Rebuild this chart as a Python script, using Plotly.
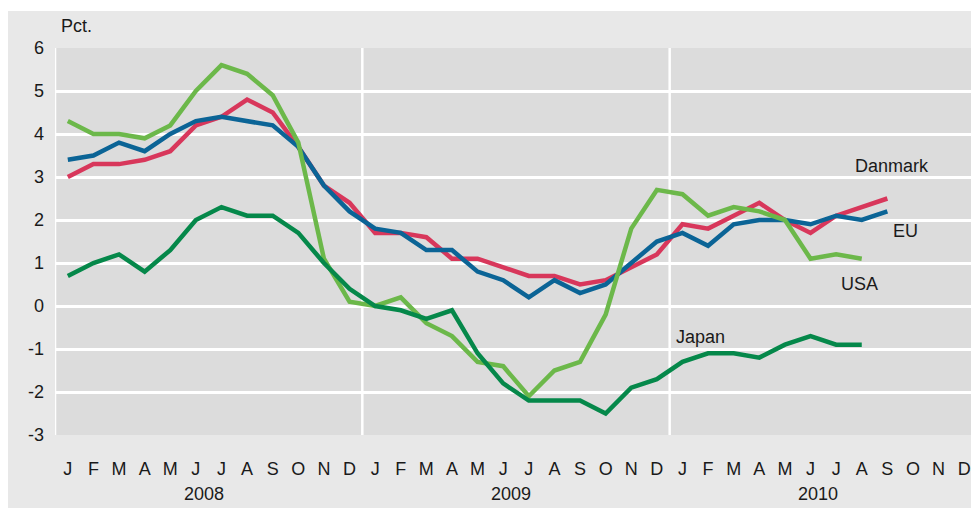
import plotly.graph_objects as go

months = ["J", "F", "M", "A", "M", "J", "J", "A", "S", "O", "N", "D"] * 3
years = ["2008", "2009", "2010"]
y_ticks = [-3, -2, -1, 0, 1, 2, 3, 4, 5, 6]
y_ticktext = ["-3", "-2", "-1", "0", "1", "2", "3", "4", "5", "6"]

danmark = [3.0, 3.3, 3.3, 3.4, 3.6, 4.2, 4.4, 4.8, 4.5, 3.7, 2.8, 2.4,
           1.7, 1.7, 1.6, 1.1, 1.1, 0.9, 0.7, 0.7, 0.5, 0.6, 0.9, 1.2,
           1.9, 1.8, 2.1, 2.4, 2.0, 1.7, 2.1, 2.3, 2.5]
eu = [3.4, 3.5, 3.8, 3.6, 4.0, 4.3, 4.4, 4.3, 4.2, 3.7, 2.8, 2.2,
      1.8, 1.7, 1.3, 1.3, 0.8, 0.6, 0.2, 0.6, 0.3, 0.5, 1.0, 1.5,
      1.7, 1.4, 1.9, 2.0, 2.0, 1.9, 2.1, 2.0, 2.2]
usa = [4.3, 4.0, 4.0, 3.9, 4.2, 5.0, 5.6, 5.4, 4.9, 3.8, 1.1, 0.1,
       0.0, 0.2, -0.4, -0.7, -1.3, -1.4, -2.1, -1.5, -1.3, -0.2, 1.8, 2.7,
       2.6, 2.1, 2.3, 2.2, 2.0, 1.1, 1.2, 1.1]
japan = [0.7, 1.0, 1.2, 0.8, 1.3, 2.0, 2.3, 2.1, 2.1, 1.7, 1.0, 0.4,
         0.0, -0.1, -0.3, -0.1, -1.1, -1.8, -2.2, -2.2, -2.2, -2.5, -1.9, -1.7,
         -1.3, -1.1, -1.1, -1.2, -0.9, -0.7, -0.9, -0.9]

series = [
    ("Danmark", danmark, "#d8375b"),
    ("EU", eu, "#0b6496"),
    ("USA", usa, "#6cb84a"),
    ("Japan", japan, "#05884a"),
]

FONT = "Liberation Sans, Arial, sans-serif"
FS = 18
TXT = "#1a1a1a"
fig = go.Figure()
for name, vals, col in series:
    fig.add_trace(go.Scatter(
        x=list(range(len(vals))), y=vals, mode="lines", name=name,
        line=dict(color=col, width=4.5), showlegend=False, hoverinfo="skip"))

shapes = []
# thin white strip at the top
shapes.append(dict(type="rect", xref="paper", yref="paper", x0=-0.2, x1=1.2,
                   y0=1.0956, y1=1.3, fillcolor="white", line_width=0, layer="below"))
# year separators and plot edges
for xv in [-0.5, 11.5, 23.5, 35.5]:
    shapes.append(dict(type="line", xref="x", yref="paper", x0=xv, x1=xv, y0=0, y1=1,
                       line=dict(color="white", width=2.5), layer="below"))
# zero line
shapes.append(dict(type="line", xref="paper", yref="y", x0=0, x1=1, y0=0, y1=0,
                   line=dict(color="#6a6a6a", width=1.6), layer="below"))

def lab(text, x, y, **kw):
    d = dict(text=text, x=x, y=y, showarrow=False,
             font=dict(size=FS, color=TXT, family=FONT))
    d.update(kw)
    return d

annotations = [
    lab("Pct.", 0.023, 1.056, xref="paper", yref="paper", xanchor="center", yanchor="middle"),
    lab("Danmark", 32.2, 3.25),
    lab("EU", 32.7, 1.74),
    lab("USA", 30.9, 0.52),
    lab("Japan", 24.7, -0.73),
]
for i, yr in enumerate(years):
    annotations.append(lab(yr, 5.3 + 12 * i, -0.152, xref="x", yref="paper", yanchor="middle"))

fig.update_layout(
    width=979, height=508,
    margin=dict(l=47, r=10, t=40, b=81),
    paper_bgcolor="#e8e8e8",
    plot_bgcolor="#dcdcdc",
    shapes=shapes,
    annotations=annotations,
    xaxis=dict(range=[-0.5, 35.5], tickmode="array", tickvals=list(range(36)),
               ticktext=months, showgrid=False, zeroline=False, showline=False,
               ticks="", ticklabelstandoff=21,
               tickfont=dict(size=FS, color=TXT, family=FONT), fixedrange=True),
    yaxis=dict(range=[-3, 6], tickmode="array", tickvals=y_ticks, ticktext=y_ticktext,
               showgrid=True, gridcolor="white", gridwidth=2.5, zeroline=False,
               showline=False, ticks="", ticklabelstandoff=10,
               tickfont=dict(size=FS, color=TXT, family=FONT), fixedrange=True),
)

fig.write_html("out.html")
